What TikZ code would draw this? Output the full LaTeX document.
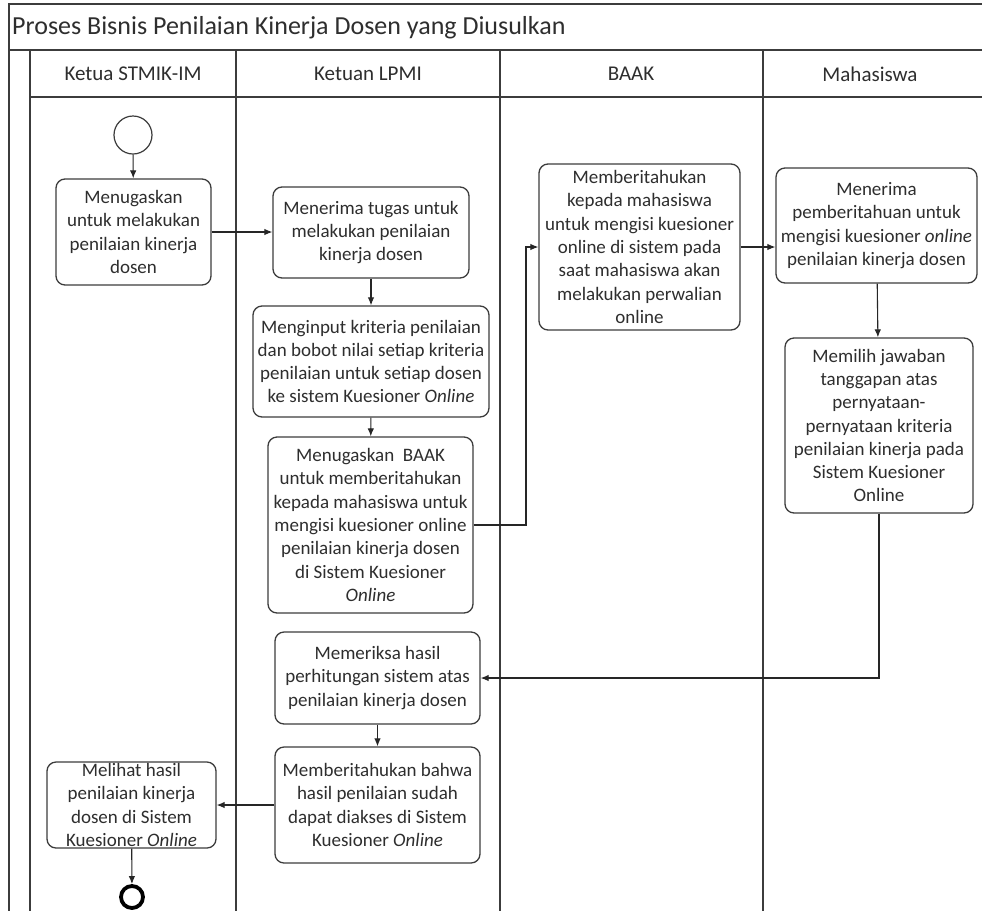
\documentclass[tikz,border=0pt]{standalone}
\usepackage{fontspec}
\setmainfont{Carlito}
\usetikzlibrary{arrows.meta}
\definecolor{ink}{HTML}{2E2E2E}
\definecolor{rule}{HTML}{3C3C3C}
\tikzset{
  task/.style={draw=rule, line width=1.3pt, rounded corners=9pt, fill=white,
    align=center, inner sep=0pt, text=ink,
    font={\fontsize{19}{23.3}\selectfont}},
  flow/.style={draw=black!85, line width=1.1pt, -{Latex[length=8pt,width=6.5pt]}},
  lane/.style={draw=rule, line width=1.3pt},
  head/.style={text=ink, font={\fontsize{21}{25}\selectfont}, inner sep=0pt},
}
\begin{document}
\begin{tikzpicture}[x=1pt, y=-1pt]
\useasboundingbox (0,0) rectangle (982,911);
\fill[white] (0,0) rectangle (982,911);

% pool frame, title band and lane header
\draw[lane] (982,4) -- (9,4) -- (9,911);
\draw[lane] (9,50) -- (982,50);
\draw[lane] (30,50) -- (30,911);
\draw[lane] (30,97) -- (982,97);
\foreach \xx in {236,500,763} \draw[lane] (\xx,50) -- (\xx,911);

\node[anchor=west, text=ink, font={\fontsize{26}{30}\selectfont}, inner sep=0pt] (title) at (12,28) {Proses Bisnis Penilaian Kinerja Dosen yang Diusulkan};
\node[head] (h1) at (133,74) {Ketua STMIK-IM};
\node[head] (h2) at (368,74) {Ketuan LPMI};
\node[head] (h3) at (631,74) {BAAK};
\node[head] (h4) at (870,74) {Mahasiswa};

% events
\node[circle, draw=rule, line width=1.2pt, minimum size=38pt, inner sep=0pt] (start) at (133,135) {};
\node[circle, draw=black, line width=3.8pt, minimum size=22pt, inner sep=0pt] (stop) at (132,897) {};

% activities
\node[task, minimum width=155pt, minimum height=106pt] (t1) at (133.5,232)
  {Menugaskan\\untuk melakukan\\penilaian kinerja\\dosen};
\node[task, minimum width=196pt, minimum height=91pt] (t2) at (371,232.5)
  {Menerima tugas untuk\\melakukan penilaian\\kinerja dosen};
\node[task, minimum width=236pt, minimum height=111pt] (t3) at (371,361.5)
  {Menginput kriteria penilaian\\dan bobot nilai setiap kriteria\\penilaian untuk setiap dosen\\ke sistem Kuesioner \emph{Online}};
\node[task, minimum width=205pt, minimum height=176pt] (t4) at (370.5,525)
  {Menugaskan\ \ BAAK\\untuk memberitahukan\\kepada mahasiswa untuk\\mengisi kuesioner online\\penilaian kinerja dosen\\di Sistem Kuesioner\\\emph{Online}};
\node[task, minimum width=201pt, minimum height=166pt] (baak) at (639.5,247)
  {Memberitahukan\\kepada mahasiswa\\untuk mengisi kuesioner\\online di sistem pada\\saat mahasiswa akan\\melakukan perwalian\\online};
\node[task, minimum width=201pt, minimum height=115pt] (m1) at (876.5,225.5)
  {Menerima\\pemberitahuan untuk\\mengisi kuesioner \emph{online}\\penilaian kinerja dosen};
\node[task, minimum width=188pt, minimum height=175pt] (m2) at (879,425.5)
  {Memilih jawaban\\tanggapan atas\\pernyataan-\\pernyataan kriteria\\penilaian kinerja pada\\Sistem Kuesioner\\Online};
\node[task, minimum width=205pt, minimum height=92pt] (t8) at (377.5,678)
  {Memeriksa hasil\\perhitungan sistem atas\\penilaian kinerja dosen};
\node[task, minimum width=205pt, minimum height=116pt] (t9) at (377.5,805)
  {Memberitahukan bahwa\\hasil penilaian sudah\\dapat diakses di Sistem\\Kuesioner \emph{Online}};
\node[task, minimum width=169pt, minimum height=86pt] (t10) at (131.5,805)
  {Melihat hasil\\penilaian kinerja\\dosen di Sistem\\Kuesioner \emph{Online}};

% bend point of the hand-over to BAAK
\coordinate (j1) at (526,247);

% sequence flows
\draw[flow] (start) -- (t1);
\draw[flow] (t1.east) -- (t1.east -| t2.west);
\draw[flow] (t2) -- (t3);
\draw[flow] (t3) -- (t4);
\draw[flow] (t4.east) -| (j1) -- (baak.west);
\draw[flow] (baak.east) -- (baak.east -| m1.west);
\draw[flow] (m1) -- (m2);
\draw[flow] (m2.south) |- (t8.east);
\draw[flow] (t8) -- (t9);
\draw[flow] (t9.west) -- (t9.west -| t10.east);
\draw[flow] (t10) -- (stop);
\end{tikzpicture}
\end{document}
